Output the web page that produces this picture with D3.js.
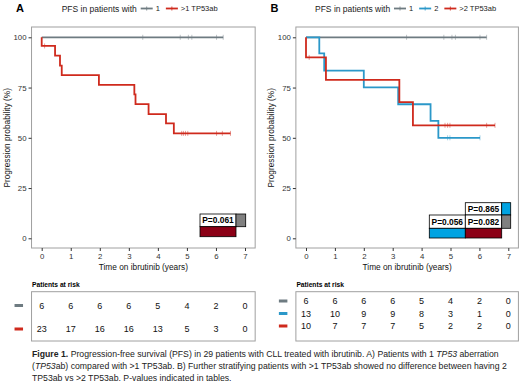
<!DOCTYPE html>
<html>
<head>
<meta charset="utf-8">
<script src="https://cdn.jsdelivr.net/npm/d3@7"></script>
<style>
  body { margin: 0; background: #fff; }
  svg text { font-family: "Liberation Sans", Arial, sans-serif; }
</style>
</head>
<body>
<div id="chart"></div>
<script>
// Risk table times and values
const riskTimes = [0, 1, 2, 3, 4, 5, 6, 7];
const riskA = [[6, 6, 6, 6, 5, 4, 2, 0], [23, 17, 16, 16, 13, 5, 3, 0]];
const riskB = [[6, 6, 6, 6, 5, 4, 2, 0], [13, 10, 9, 9, 8, 3, 1, 0], [10, 7, 7, 7, 5, 2, 2, 0]];

// KM steps: [time, survival %], last entry of each array = end of follow-up
const gray1Steps = [[0, 100], [6.25, 100]];
const gray1Censor = [3.48, 4.77, 5.05, 5.17, 6.02, 6.25];

const redASteps = [[0, 100], [0, 95.7], [0.46, 90.9], [0.63, 85.9], [0.69, 81.2], [1.97, 76.3],
  [3.19, 71.6], [3.23, 66.8], [3.68, 61.8], [4.28, 57.2], [4.55, 52.2], [6.5, 52.2]];
const redACensor = [0.1, 4.82, 4.88, 4.95, 5.03, 6.02, 6.22, 6.5];

const blueBSteps = [[0, 100], [0.46, 92.0], [0.63, 83.4], [2.0, 75.1], [3.19, 66.7], [4.31, 58.4],
  [4.58, 50.0], [6.02, 50.0]];
const blueBCensor = [4.9, 4.98, 6.02];

const redBSteps = [[0, 100], [0, 90.0], [0.69, 78.8], [3.23, 67.7], [3.7, 56.2], [6.54, 56.2]];
const redBCensor = [0.11, 4.81, 4.9, 4.98, 6.25, 6.54];

const labelsA = ["1", ">1 TP53ab"];
const labelsB = ["1", "2", ">2 TP53ab"];
const pValuesA = ["P=0.061"];
const pValuesB = ["P=0.865", "P=0.056", "P=0.082"];

const GRAY = "#6e7b81", RED = "#cf2a1d", BLUE = "#2b98c9";
const T_GRAY = "#808080", T_RED = "#8b0016", T_BLUE = "#00a3e2";

const svg = d3.select("#chart").append("svg")
    .attr("width", 520)
    .attr("height", 381);

// survival level of a step curve at time t
function levelAt(steps, t) {
    let s = steps[0][1];
    steps.forEach(d => { if (d[0] <= t) s = d[1]; });
    return s;
}

function panel(cfg) {
    const x = d3.scaleLinear().domain([0, 7]).range(cfg.xRange);
    const y = d3.scaleLinear().domain([0, 100]).range([238.3, 37.3]);
    const g = svg.append("g");
    const x0 = x(-0.35), x1 = x(7.35);

    // panel letter
    g.append("text").attr("x", cfg.letterX).attr("y", 12)
        .style("font-size", "11px").style("font-weight", "bold").text(cfg.letter);

    // legend header
    g.append("text").attr("x", cfg.legendX).attr("y", 11.5)
        .style("font-size", "8.5px").attr("fill", "#222").text("PFS in patients with");
    let lx = cfg.legendX + 79;
    cfg.curves.forEach((c, i) => {
        g.append("line").attr("x1", lx).attr("x2", lx + 12).attr("y1", 8.5).attr("y2", 8.5)
            .attr("stroke", c.color).attr("stroke-width", 1.8);
        g.append("line").attr("x1", lx + 6).attr("x2", lx + 6).attr("y1", 6.5).attr("y2", 10.5)
            .attr("stroke", c.color).attr("stroke-width", 0.8);
        const t = g.append("text").attr("x", lx + 15).attr("y", 11.2)
            .style("font-size", "7.5px").attr("fill", "#222").text(cfg.labels[i]);
        lx += 15 + t.node().getComputedTextLength() + 6;
    });

    // frame
    g.append("rect").attr("x", x0).attr("y", 27).attr("width", x1 - x0).attr("height", 221)
        .attr("fill", "none").attr("stroke", "#a0a0a0").attr("stroke-width", 1);

    // axes
    const ya = g.append("g").attr("transform", `translate(${x0},0)`)
        .call(d3.axisLeft(y).tickValues([0, 25, 50, 75, 100]).tickSize(3).tickPadding(2));
    const xa = g.append("g").attr("transform", "translate(0,248)")
        .call(d3.axisBottom(x).tickValues(riskTimes).tickFormat(d3.format("d")).tickSize(3).tickPadding(2));
    [ya, xa].forEach(a => {
        a.select(".domain").remove();
        a.selectAll("line").attr("stroke", "#333");
        a.selectAll("text").style("font-size", "7.8px").attr("fill", "#333")
            .style("font-family", "Liberation Sans, Arial, sans-serif");
    });

    g.append("text").attr("x", (x0 + x1) / 2).attr("y", 270).attr("text-anchor", "middle")
        .style("font-size", "8.3px").attr("fill", "#111").text("Time on ibrutinib (years)");
    g.append("text").attr("transform", `translate(${x0 - 22},137.8) rotate(-90)`)
        .attr("text-anchor", "middle").style("font-size", "8.3px").attr("fill", "#111")
        .text("Progression probability (%)");

    // curves
    const line = d3.line().x(d => x(d[0])).y(d => y(d[1])).curve(d3.curveStepAfter);
    cfg.curves.forEach(c => {
        g.append("path").datum(c.steps).attr("d", line)
            .attr("fill", "none").attr("stroke", c.color).attr("stroke-width", 1.8);
        g.selectAll(null).data(c.censor).enter().append("line")
            .attr("x1", d => x(d)).attr("x2", d => x(d))
            .attr("y1", d => y(levelAt(c.steps, d)) - 2.5).attr("y2", d => y(levelAt(c.steps, d)) + 2.5)
            .attr("stroke", c.color).attr("stroke-opacity", 0.45).attr("stroke-width", 1);
    });

    // p-value table
    cfg.pCells.forEach(cell => {
        g.append("rect").attr("x", cell.x).attr("y", cell.y).attr("width", cell.w).attr("height", cell.h)
            .attr("fill", cell.fill || "#fff").attr("stroke", "#000").attr("stroke-width", 0.8);
        if (cell.text) {
            g.append("text").attr("x", cell.x + cell.w / 2).attr("y", cell.y + cell.h / 2)
                .attr("dy", "0.36em").attr("text-anchor", "middle")
                .style("font-size", "8.4px").style("font-weight", "bold").text(cell.text);
        }
    });

    // risk table
    g.append("text").attr("x", x0 + 0.5).attr("y", 286.5)
        .style("font-size", "6.7px").style("font-weight", "bold").text("Patients at risk");
    g.append("rect").attr("x", x0).attr("y", 291.7).attr("width", x1 - x0).attr("height", 49.3)
        .attr("fill", "none").attr("stroke", "#a0a0a0").attr("stroke-width", 1);
    const ry = d3.scalePoint().domain(d3.range(cfg.risk.length)).range(cfg.riskRows);
    cfg.risk.forEach((row, i) => {
        g.append("rect").attr("x", x0 - 17).attr("y", ry(i) - 1.5).attr("width", 8.5).attr("height", 3)
            .attr("fill", cfg.curves[i].color);
        g.selectAll(null).data(row).enter().append("text")
            .attr("x", (d, j) => x(riskTimes[j])).attr("y", ry(i)).attr("dy", "0.36em")
            .attr("text-anchor", "middle").style("font-size", "9px").attr("fill", "#111")
            .text(d => d);
    });
}

panel({
    letter: "A", letterX: 16, legendX: 61.7, xRange: [41.7, 245], labels: labelsA,
    curves: [
        { steps: gray1Steps, censor: gray1Censor, color: GRAY },
        { steps: redASteps, censor: redACensor, color: RED }
    ],
    risk: riskA, riskRows: [305.5, 329],
    pCells: [
        { x: 200, y: 214, w: 36, h: 12.7, text: pValuesA[0] },
        { x: 236, y: 214, w: 9.7, h: 12.7, fill: T_GRAY },
        { x: 200, y: 226.7, w: 36, h: 10, fill: T_RED }
    ]
});

panel({
    letter: "B", letterX: 270.5, legendX: 315, xRange: [306, 508.3], labels: labelsB,
    curves: [
        { steps: gray1Steps, censor: gray1Censor, color: GRAY },
        { steps: blueBSteps, censor: blueBCensor, color: BLUE },
        { steps: redBSteps, censor: redBCensor, color: RED }
    ],
    risk: riskB, riskRows: [301, 326],
    pCells: [
        { x: 465.3, y: 202.7, w: 36.4, h: 12.3, text: pValuesB[0] },
        { x: 501.7, y: 202.7, w: 9, h: 12.3, fill: T_BLUE },
        { x: 429.3, y: 215, w: 36, h: 13.3, text: pValuesB[1] },
        { x: 465.3, y: 215, w: 36.4, h: 13.3, text: pValuesB[2] },
        { x: 501.7, y: 215, w: 9, h: 13.3, fill: T_GRAY },
        { x: 429.3, y: 228.3, w: 36, h: 9.7, fill: T_BLUE },
        { x: 465.3, y: 228.3, w: 36.4, h: 9.7, fill: T_RED }
    ]
});

// caption
const capSize = "8.7px";
const cap = svg.append("text").attr("x", 32).attr("y", 357).style("font-size", capSize).attr("fill", "#222");
cap.append("tspan").style("font-weight", "bold").text("Figure 1.");
cap.append("tspan").text(" Progression-free survival (PFS) in 29 patients with CLL treated with ibrutinib. A) Patients with 1 ");
cap.append("tspan").style("font-style", "italic").text("TP53");
cap.append("tspan").text(" aberration");
const cap2 = svg.append("text").attr("x", 32).attr("y", 369).style("font-size", capSize).attr("fill", "#222");
cap2.append("tspan").text("(");
cap2.append("tspan").style("font-style", "italic").text("TP53");
cap2.append("tspan").text("ab) compared with >1 TP53ab. B) Further stratifying patients with >1 TP53ab showed no difference between having 2");
svg.append("text").attr("x", 32).attr("y", 380.5).style("font-size", capSize).attr("fill", "#222")
    .text("TP53ab vs >2 TP53ab. P-values indicated in tables.");
</script>
</body>
</html>
